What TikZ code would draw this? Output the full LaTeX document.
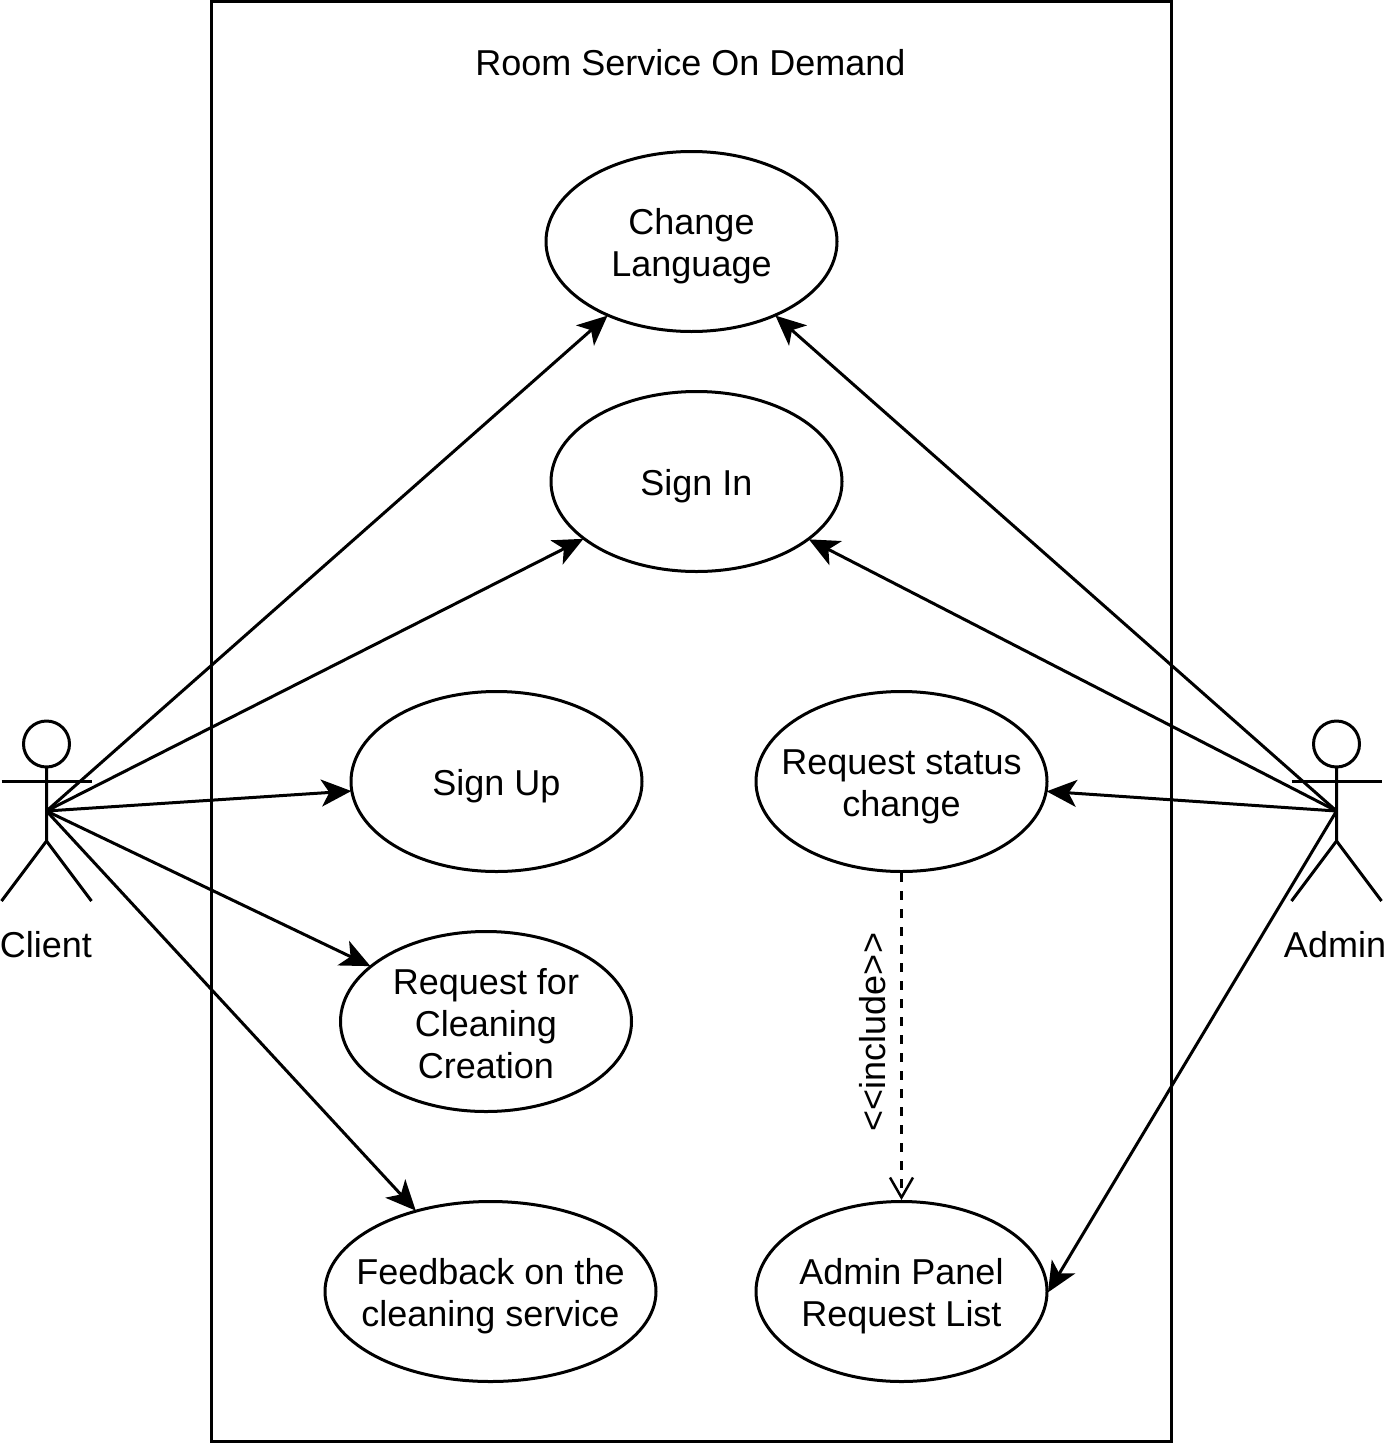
\documentclass[tikz,border=0pt]{standalone}
\usepackage{fontspec}
\setmainfont{Liberation Sans}
\usetikzlibrary{arrows.meta,shapes.geometric}
\newcommand\lowered[1][35pt]{\rule{0pt}{#1}\ignorespaces}
\tikzset{
  x=1pt,y=-1pt,
  every node/.style={font=\fontsize{36}{42}\selectfont},
  line/.style={line width=3pt,black},
  usecase/.style={ellipse,draw,line width=3pt,minimum width=291pt,minimum height=180pt,inner sep=-30pt,align=center},
  label/.style={inner sep=0pt,align=center},
  assoc/.style={line,-{Stealth[length=30pt,width=27pt,inset=8pt]},shorten >=-1pt},
  incl/.style={line,dashed,dash pattern=on 9pt off 9pt,-{Straight Barb[length=20pt,width=23pt,line width=2.5pt]}},
}
\begin{document}
\begin{tikzpicture}
\useasboundingbox (0,0) rectangle (1389,1443);
\draw[line] (211.5,1.5) rectangle (1171,1441);
\node[label] (title) at (690.5,63) {Room Service On Demand};
\node[usecase] (ch) at (691.5,241.5) {\lowered Change\\Language};
\node[usecase] (si) at (696.5,481.5) {\lowered Sign In};
\node[usecase] (su) at (496.5,781.5) {\lowered Sign Up};
\node[usecase] (rs) at (901.5,781.5) {\lowered[36pt] Request status\\change};
\node[usecase] (rc) at (486,1021.5) {\lowered[30pt] Request for\\Cleaning\\Creation};
\node[usecase,minimum width=331pt] (fb) at (490.5,1291.5) {\lowered Feedback on the\\cleaning service};
\node[usecase] (ap) at (901.5,1291.5) {\lowered Admin Panel\\Request List};
% actors
\coordinate (cl) at (46.5,811);
\coordinate (ad) at (1336.5,811);
\foreach \c in {cl,ad}{
  \draw[line] ([yshift=67pt]\c) circle (23pt);
  \draw[line] ([yshift=44pt]\c) -- ([yshift=-30pt]\c) -- ([xshift=-45pt,yshift=-90pt]\c);
  \draw[line] ([yshift=-30pt]\c) -- ([xshift=45pt,yshift=-90pt]\c);
  \draw[line] ([xshift=-45pt,yshift=30pt]\c) -- ([xshift=45pt,yshift=30pt]\c);
}
\node[label] (clt) at (46,945) {Client};
\node[label] (adt) at (1335,945) {Admin};
% connectors
\draw[assoc] (cl) -- (ch);
\draw[assoc] (cl) -- (si);
\draw[assoc] (cl) -- (su);
\draw[assoc] (cl) -- (rc);
\draw[assoc] (cl) -- (fb);
\draw[assoc] (ad) -- (ch);
\draw[assoc] (ad) -- (si);
\draw[assoc] (ad) -- (rs);
\draw[assoc] (ad) -- (ap.east);
\draw[incl] (rs) -- (ap);
\node[label,rotate=90] (inc) at (873,1032) {<{}<include>{}>};
\end{tikzpicture}
\end{document}
